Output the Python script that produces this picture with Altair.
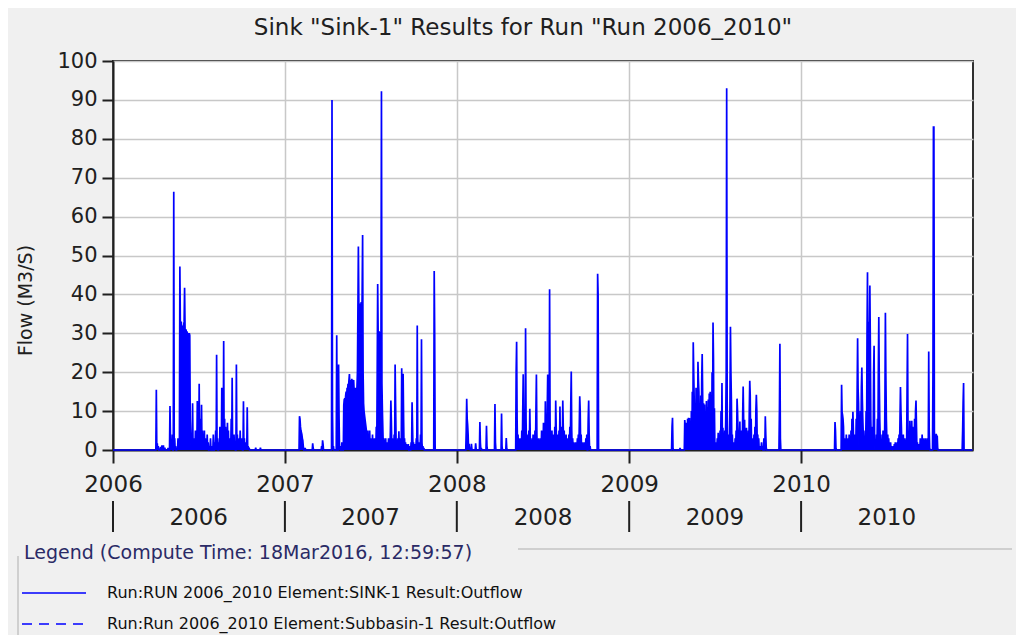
import altair as alt
import pandas as pd

# ---------------- data (day offset from 1 Jan, flow m3/s) -------------
doy_2006 = [92, 94, 96, 101, 104, 107, 110, 117, 121, 122, 124, 126, 129, 131, 133, 136, 138, 140,
            142, 143, 144, 145, 146, 147, 148, 149, 150, 151, 152, 153, 154, 155, 156, 157, 158, 159,
            160, 161, 162, 163, 164, 165, 167, 169, 171, 173, 175, 177, 179, 181, 183, 185, 186, 188,
            190, 192, 194, 196, 198, 200, 202, 205, 207, 210, 213, 216, 218, 220, 222, 225, 227, 229,
            231, 233, 235, 237, 239, 241, 243, 245, 247, 249, 251, 253, 255, 257, 259, 262, 264, 266,
            268, 270, 272, 274, 277, 279, 281, 283, 285, 287, 289, 303, 313]
q_2006 = [15.5, 1.7, 1.0, 0.8, 1.2, 1.2, 0.6, 0.5, 11.3, 3, 1.5, 4, 66.4, 3, 1, 0.5, 3, 2,
          47.2, 32, 31, 33, 30, 32, 31, 30, 32, 33, 41.7, 31, 30.5, 31, 30, 30.5, 30, 29.5,
          30, 29.5, 30, 29.5, 8, 3, 1, 12, 3, 1, 5, 3, 12.6, 4, 17, 8, 6, 11.6,
          5, 4, 5, 3, 2, 4, 2, 1, 3, 1, 4, 2, 5, 24.5, 3, 2, 6, 4,
          16, 5, 28, 8, 6, 3, 7, 5, 2, 3, 8, 18.6, 3, 4, 2, 22, 4, 2,
          3, 5, 2, 3, 12.5, 3, 2, 1, 11, 1, 0.6, 0.6, 0.6]

doy_2007 = [31, 32, 33, 34, 35, 36, 37, 38, 39, 43, 59, 60, 78, 80, 81, 100, 101, 103, 110, 111,
            114, 115, 117, 121, 125, 126, 127, 128, 129, 130, 131, 132, 133, 134, 135, 136, 137, 138,
            139, 140, 141, 142, 143, 144, 145, 146, 147, 148, 149, 150, 151, 152, 153, 154, 155, 156,
            157, 158, 159, 160, 161, 162, 163, 164, 165, 166, 167, 168, 169, 170, 171, 172, 173, 174,
            176, 178, 180, 182, 184, 186, 188, 190, 192, 194, 196, 197, 198, 199, 200, 201, 202, 203,
            204, 205, 206, 207, 208, 210, 212, 214, 216, 218, 220, 222, 224, 225, 226, 228, 230, 232,
            234, 235, 236, 238, 240, 242, 244, 246, 248, 250, 251, 252, 254, 256, 258, 260, 262, 265,
            268, 270, 271, 273, 275, 277, 279, 281, 282, 284, 286, 288, 290, 291, 293, 295, 317, 318]
q_2007 = [8.7, 8.0, 6, 5, 4.5, 4, 3, 2.5, 1, 0.5, 1.7, 0.5, 1, 2.5, 1.5, 90, 10, 1, 29.5, 5,
          22, 8, 1, 2, 11.5, 13, 13.2, 12, 14, 15, 13, 16, 15, 17, 16, 18, 19.5, 16,
          17, 18, 16, 18.3, 17, 16, 17.5, 18, 15, 14, 13, 16, 15, 14, 16, 20, 36, 52.3,
          37, 37.6, 37, 36, 37, 38, 30, 40, 55.3, 20, 12, 10, 9, 8, 7, 6, 5, 4,
          5, 3, 5, 3, 2, 4, 2, 3, 2, 6, 20, 42.7, 30, 30, 30.5, 30, 28, 20,
          30, 92.2, 17, 10, 5, 3, 2, 3, 2, 2, 3, 2, 5, 12.7, 7.5, 3, 2, 4,
          22, 12, 3, 2, 3, 4.8, 2, 3, 21, 5, 19.6, 8, 3, 2, 1.5, 1, 1.5, 1,
          2, 12.3, 6, 2, 1, 1.5, 3, 32, 3, 1, 2, 4, 28.5, 2, 1, 0.5, 46, 30]

doy_2008 = [20, 21, 22, 23, 24, 26, 28, 31, 32, 40, 41, 49, 50, 52, 63, 64, 81, 82, 95, 96, 105, 106,
            126, 127, 128, 130, 132, 134, 136, 138, 140, 141, 142, 144, 146, 147, 149, 151, 153, 155,
            156, 158, 160, 162, 164, 166, 168, 169, 170, 172, 174, 176, 178, 180, 182, 184, 186, 188,
            190, 192, 193, 195, 197, 198, 200, 202, 204, 206, 208, 210, 211, 213, 215, 217, 219, 221,
            223, 225, 226, 228, 230, 232, 234, 236, 238, 240, 242, 243, 244, 246, 248, 250, 252, 254,
            256, 258, 260, 261, 262, 264, 266, 268, 270, 272, 274, 276, 279, 280, 281, 283, 299, 300]
q_2008 = [5, 13.2, 8, 6.5, 4, 1.6, 0.5, 1.6, 0.3, 1.7, 0.3, 7.2, 2, 0.5, 6.2, 1, 11.8, 2, 9.4, 1, 3.1, 0.5,
          20, 27.8, 8, 4, 2, 3, 2, 5, 10, 19.5, 6, 3, 31.3, 8, 4, 3, 5, 10.6,
          3, 2, 3, 4, 2, 5, 10, 19.4, 4, 2, 3, 2, 3, 5, 4, 7, 6, 12.5,
          6, 10, 19.4, 12, 41.3, 8, 3, 5, 4, 3, 6, 12.7, 6, 3, 4, 5, 11.2, 6,
          4, 12.7, 6, 5, 3, 4, 2, 3, 4, 6, 12, 20.2, 5, 3, 2, 1, 2, 1,
          3, 4, 6, 13.8, 10, 4, 2, 1, 2, 1, 3, 4, 8, 12.7, 4, 1, 45.3, 40]

doy_2009 = [91, 92, 93, 108, 118, 119, 120, 122, 124, 126, 128, 130, 132, 134, 136, 137, 138, 140,
            142, 144, 146, 147, 148, 150, 152, 154, 155, 156, 158, 160, 162, 164, 166, 168, 170, 172,
            174, 176, 178, 179, 181, 183, 185, 187, 189, 191, 193, 195, 197, 199, 201, 203, 205, 206,
            207, 208, 210, 212, 214, 215, 216, 217, 219, 221, 223, 225, 227, 229, 230, 231, 233, 235,
            237, 239, 241, 242, 243, 245, 247, 249, 251, 253, 255, 256, 257, 259, 261, 263, 265, 267,
            269, 270, 271, 273, 275, 277, 279, 281, 283, 286, 289, 290, 291, 319, 320, 321]
q_2009 = [6, 8.3, 0.5, 0.5, 7.7, 6, 5.5, 7, 8, 8.3, 8.2, 6, 10, 15, 27.7, 20, 13.2, 12,
          16, 15, 22.7, 18, 15, 12, 14, 18, 24.7, 14, 12, 11.7, 10, 12.6, 11, 13, 14.5, 15,
          14, 20, 32.8, 23, 10.7, 2, 1, 3, 4.4, 3, 5, 10, 17.2, 5.7, 3, 5, 8, 20,
          93, 13.2, 4, 3, 12, 31.7, 20, 12.8, 4, 2, 1, 3, 5, 13.2, 10, 5.2, 4, 7.3,
          3, 5, 9, 16.3, 8, 7.8, 4, 5.7, 3, 5, 10, 17.8, 14, 8, 3, 2, 4, 6,
          10, 14.2, 10, 4, 3, 1, 0.5, 2, 1, 3, 8.7, 4, 0.5, 10, 27.3, 3]

doy_2010 = [72, 73, 74, 86, 87, 88, 89, 90, 92, 94, 96, 98, 100, 102, 104, 106, 108, 110, 111, 113,
            115, 117, 119, 120, 121, 122, 124, 126, 128, 129, 130, 131, 132, 134, 136, 138, 140, 141,
            143, 145, 146, 147, 148, 149, 150, 152, 154, 155, 156, 158, 160, 162, 164, 165, 166, 167,
            168, 170, 172, 174, 176, 178, 179, 180, 181, 182, 184, 186, 188, 190, 192, 194, 196, 198,
            200, 202, 204, 206, 208, 210, 211, 212, 213, 215, 217, 219, 221, 223, 225, 226, 227, 229,
            231, 233, 235, 237, 239, 241, 243, 244, 245, 247, 249, 251, 253, 255, 257, 259, 261, 263,
            265, 267, 269, 271, 272, 273, 280, 281, 282, 283, 285, 287, 289, 290, 343, 344, 345]
q_2010 = [7.2, 5, 0.5, 16.8, 9.7, 9, 8, 6, 3, 2, 4, 2, 3, 4, 3, 5, 8, 9.8, 5, 4,
          3, 8, 15, 28.7, 15.8, 12, 6, 10, 16, 21.2, 13.2, 8, 4, 3, 5, 10, 30, 45.7,
          33, 30, 42.3, 27.3, 8, 1.5, 3, 6, 20, 26.8, 3, 2, 4, 8, 20, 34.2, 17.8, 8,
          3, 2, 4, 5, 3, 12, 35.3, 19, 8, 3, 4, 3, 1, 2, 1, 0.5, 1, 1.5,
          2, 1, 2, 3, 4, 8, 16.2, 10, 5.7, 3, 4, 3, 2, 3, 15, 29.8, 5, 3,
          7.5, 5, 7.5, 6, 4, 8, 10, 12.7, 6, 2, 1, 1.5, 3, 2, 4, 2, 3, 2,
          3, 2, 3, 25.3, 5, 0.5, 20, 83, 83, 4.8, 4, 4.2, 3.7, 0.5, 5, 12, 17.2]

years = [2006, 2007, 2008, 2009, 2010]
y_ticks = [0, 10, 20, 30, 40, 50, 60, 70, 80, 90, 100]

title_text = 'Sink "Sink-1" Results for Run "Run 2006_2010"'
y_title = "Flow (M3/S)"
legend_header = "Legend (Compute Time: 18Mar2016, 12:59:57)"
legend_labels = ["Run:RUN 2006_2010 Element:SINK-1 Result:Outflow",
                 "Run:Run 2006_2010 Element:Subbasin-1 Result:Outflow"]

# ---------------- build daily table -------------
yearly = {2006: (doy_2006, q_2006), 2007: (doy_2007, q_2007), 2008: (doy_2008, q_2008),
          2009: (doy_2009, q_2009), 2010: (doy_2010, q_2010)}
days = pd.date_range("2006-01-01", "2010-12-31", freq="D")
flow = pd.Series(0.0, index=days)
for yr, (dd, qq) in yearly.items():
    start = pd.Timestamp(f"{yr}-01-01")
    for d, q in zip(dd, qq):
        flow[start + pd.Timedelta(days=d)] = q
df = pd.DataFrame({"date": days.strftime("%Y-%m-%d"), "flow": flow.values})

FONT = "DejaVu Sans"
BLUE = "#0000ff"
X0, Y0 = 113, 61  # page position of the plot origin


def px(x):
    return x - X0


def py(y):
    return y - Y0


x_scale = alt.Scale(type="utc",
                    domain=[alt.DateTime(year=2006, month=1, date=1, utc=True),
                            alt.DateTime(year=2011, month=1, date=1, utc=True)])

x_axis = alt.Axis(values=[alt.DateTime(year=y, month=1, date=1, utc=True) for y in years],
                  format="%Y", formatType="utc", labelFontSize=23, labelFont=FONT,
                  labelColor="#202020", tickSize=13, tickWidth=2, tickColor="#202020",
                  labelPadding=10, domainColor="#202020", domainWidth=2,
                  grid=True, gridColor="#c8c8c8", gridWidth=1.5, labelFlush=False, title=None)

flow_layer = alt.Chart(df).mark_area(
    color=BLUE, opacity=1, line={"color": BLUE, "strokeWidth": 1.7}
).encode(
    x=alt.X("date:T", scale=x_scale, axis=x_axis),
    y=alt.Y("flow:Q", scale=alt.Scale(domain=[0, 100], nice=False),
            axis=alt.Axis(values=y_ticks, labelFontSize=21, labelFont=FONT, labelColor="#202020",
                          tickSize=11, tickWidth=2, tickColor="#202020", labelPadding=5,
                          domainColor="#202020", domainWidth=2, grid=True, gridColor="#c8c8c8",
                          gridWidth=1.5, title=y_title, titleFont=FONT, titleFontSize=19,
                          titleFontWeight="normal", titleColor="#202020", titleAngle=-90,
                          titleX=px(25), titleY=py(300), titleAlign="center",
                          titleBaseline="middle")),
)

# second row of year markers
yr_df = pd.DataFrame({"date": [f"{y}-01-01" for y in years],
                      "mid": [f"{y}-07-02" for y in years],
                      "label": [str(y) for y in years]})
year_bars = alt.Chart(yr_df).mark_rule(color="#202020", strokeWidth=2).encode(
    x=alt.X("date:T", scale=x_scale, axis=x_axis), y=alt.value(py(501)), y2=alt.value(py(532)))
year_text = alt.Chart(yr_df).mark_text(font=FONT, fontSize=23, color="#202020",
                                       align="center", baseline="middle").encode(
    x=alt.X("mid:T", scale=x_scale, axis=x_axis), y=alt.value(py(518)), text="label:N")

one = pd.DataFrame({"t": [title_text], "h": [legend_header]})
title_layer = alt.Chart(one).mark_text(font=FONT, fontSize=23, color="#202020",
                                       align="center", baseline="middle").encode(
    x=alt.value(px(523)), y=alt.value(py(28)), text="t:N")

header_layer = alt.Chart(one).mark_text(font=FONT, fontSize=19, color="#2a2a66",
                                        align="left", baseline="middle").encode(
    x=alt.value(px(24)), y=alt.value(py(553)), text="h:N")

border_top = alt.Chart(one).mark_rule(color="#c4c4c4", strokeWidth=1.5).encode(
    x=alt.value(px(518)), x2=alt.value(px(1012)), y=alt.value(py(549)))
border_left = alt.Chart(one).mark_rule(color="#c4c4c4", strokeWidth=1.5).encode(
    x=alt.value(px(18)), y=alt.value(py(556)), y2=alt.value(py(640)))

leg_df = pd.DataFrame({"label": legend_labels})
leg_line1 = alt.Chart(one).mark_rule(color=BLUE, strokeWidth=1.5).encode(
    x=alt.value(px(22)), x2=alt.value(px(86)), y=alt.value(py(593)))
leg_line2 = alt.Chart(one).mark_rule(color=BLUE, strokeWidth=1.5, strokeDash=[10, 7]).encode(
    x=alt.value(px(22)), x2=alt.value(px(86)), y=alt.value(py(624)))
leg_text1 = alt.Chart(leg_df.iloc[[0]]).mark_text(font=FONT, fontSize=16, color="#101010",
                                                  align="left", baseline="middle").encode(
    x=alt.value(px(107)), y=alt.value(py(593)), text="label:N")
leg_text2 = alt.Chart(leg_df.iloc[[1]]).mark_text(font=FONT, fontSize=16, color="#101010",
                                                  align="left", baseline="middle").encode(
    x=alt.value(px(107)), y=alt.value(py(624)), text="label:N")

chart = alt.layer(
    flow_layer, year_bars, year_text, title_layer, header_layer, border_top, border_left,
    leg_line1, leg_line2, leg_text1, leg_text2
).properties(
    width=860, height=389,
    autosize=alt.AutoSizeParams(type="none"),
    padding={"left": 105, "top": 53, "right": 43, "bottom": 185},
    background="#f0f0f0",
).configure_view(
    fill="white", stroke="#303030", strokeWidth=2
)

chart.save("out.html", embed_options={"renderer": "svg", "actions": False})
